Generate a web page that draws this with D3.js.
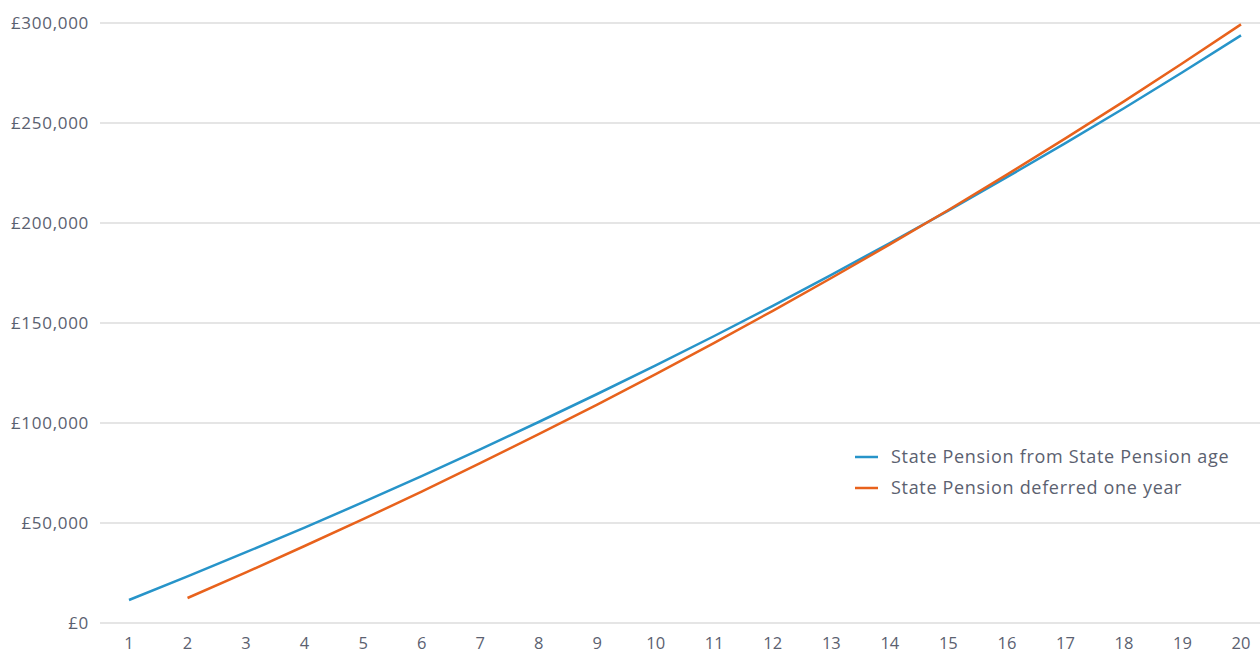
<!DOCTYPE html>
<meta charset="utf-8">
<title>State Pension cumulative</title>
<script src="https://d3js.org/d3.v7.min.js"></script>
<style>
    body { margin: 0; background: #fff; }
    text { font-family: "Open Sans", sans-serif; fill: #5b6170; }
</style>
<body>
<script>
    // years since State Pension age
    let years = d3.range(1, 21);
    // cumulative amount (£)
    let fromSpa = [11500, 23300, 35400, 47700, 60400, 73400, 86800, 100500, 114500, 128800,
                   143500, 158600, 174100, 190000, 206200, 222900, 239900, 257400, 275400, 293800];
    let deferredYears = d3.range(2, 21);
    let deferred = [12500, 25300, 38500, 51900, 65700, 79900, 94400, 109200, 124400,
                    140100, 156100, 172500, 189300, 206500, 224200, 242300, 260800, 279900, 299300];
    let yTicks = [0, 50000, 100000, 150000, 200000, 250000, 300000];
    let seriesNames = ["State Pension from State Pension age", "State Pension deferred one year"];
    let colours = ["#2794c9", "#e8621c"];

    var W = 1260, H = 655;
    var svg = d3.select("body").append("svg").attr("width", W).attr("height", H);

    var x = d3.scalePoint().domain(years).range([129, 1241]);
    var y = d3.scaleLinear().domain([0, 300000]).range([623, 23]);

    // gridlines + y labels
    svg.append("g").selectAll("line").data(yTicks).enter().append("line")
        .attr("x1", 100).attr("x2", W)
        .attr("y1", d => y(d)).attr("y2", d => y(d))
        .attr("stroke", "#dcdcdc").attr("stroke-width", 1.5);

    svg.append("g").selectAll("text").data(yTicks).enter().append("text")
        .attr("x", 89).attr("y", d => y(d) + 6)
        .attr("text-anchor", "end")
        .style("font-size", "17px").style("letter-spacing", "0.7px")
        .text(d => "£" + d3.format(",")(d));

    svg.append("g").selectAll("text").data(years).enter().append("text")
        .attr("x", d => x(d)).attr("y", 649)
        .attr("text-anchor", "middle").style("font-size", "16.5px")
        .text(d => d);

    var line = d3.line().x(d => x(d[0])).y(d => y(d[1]));

    var series = [
        years.map((yr, i) => [yr, fromSpa[i]]),
        deferredYears.map((yr, i) => [yr, deferred[i]])
    ];

    svg.append("g").selectAll("path").data(series).enter().append("path")
        .attr("d", line)
        .attr("fill", "none")
        .attr("stroke", (d, i) => colours[i])
        .attr("stroke-width", 2.5);

    // legend
    var leg = svg.append("g").attr("transform", "translate(855,457)");
    var items = leg.selectAll("g").data(seriesNames).enter().append("g")
        .attr("transform", (d, i) => "translate(0," + (i * 31) + ")");
    items.append("line").attr("x1", 0).attr("x2", 23)
        .attr("stroke", (d, i) => colours[i]).attr("stroke-width", 2.5);
    items.append("text").attr("x", 36).attr("y", 6)
        .style("font-size", "18px").style("letter-spacing", "0.68px")
        .text(d => d);
</script>
</body>
